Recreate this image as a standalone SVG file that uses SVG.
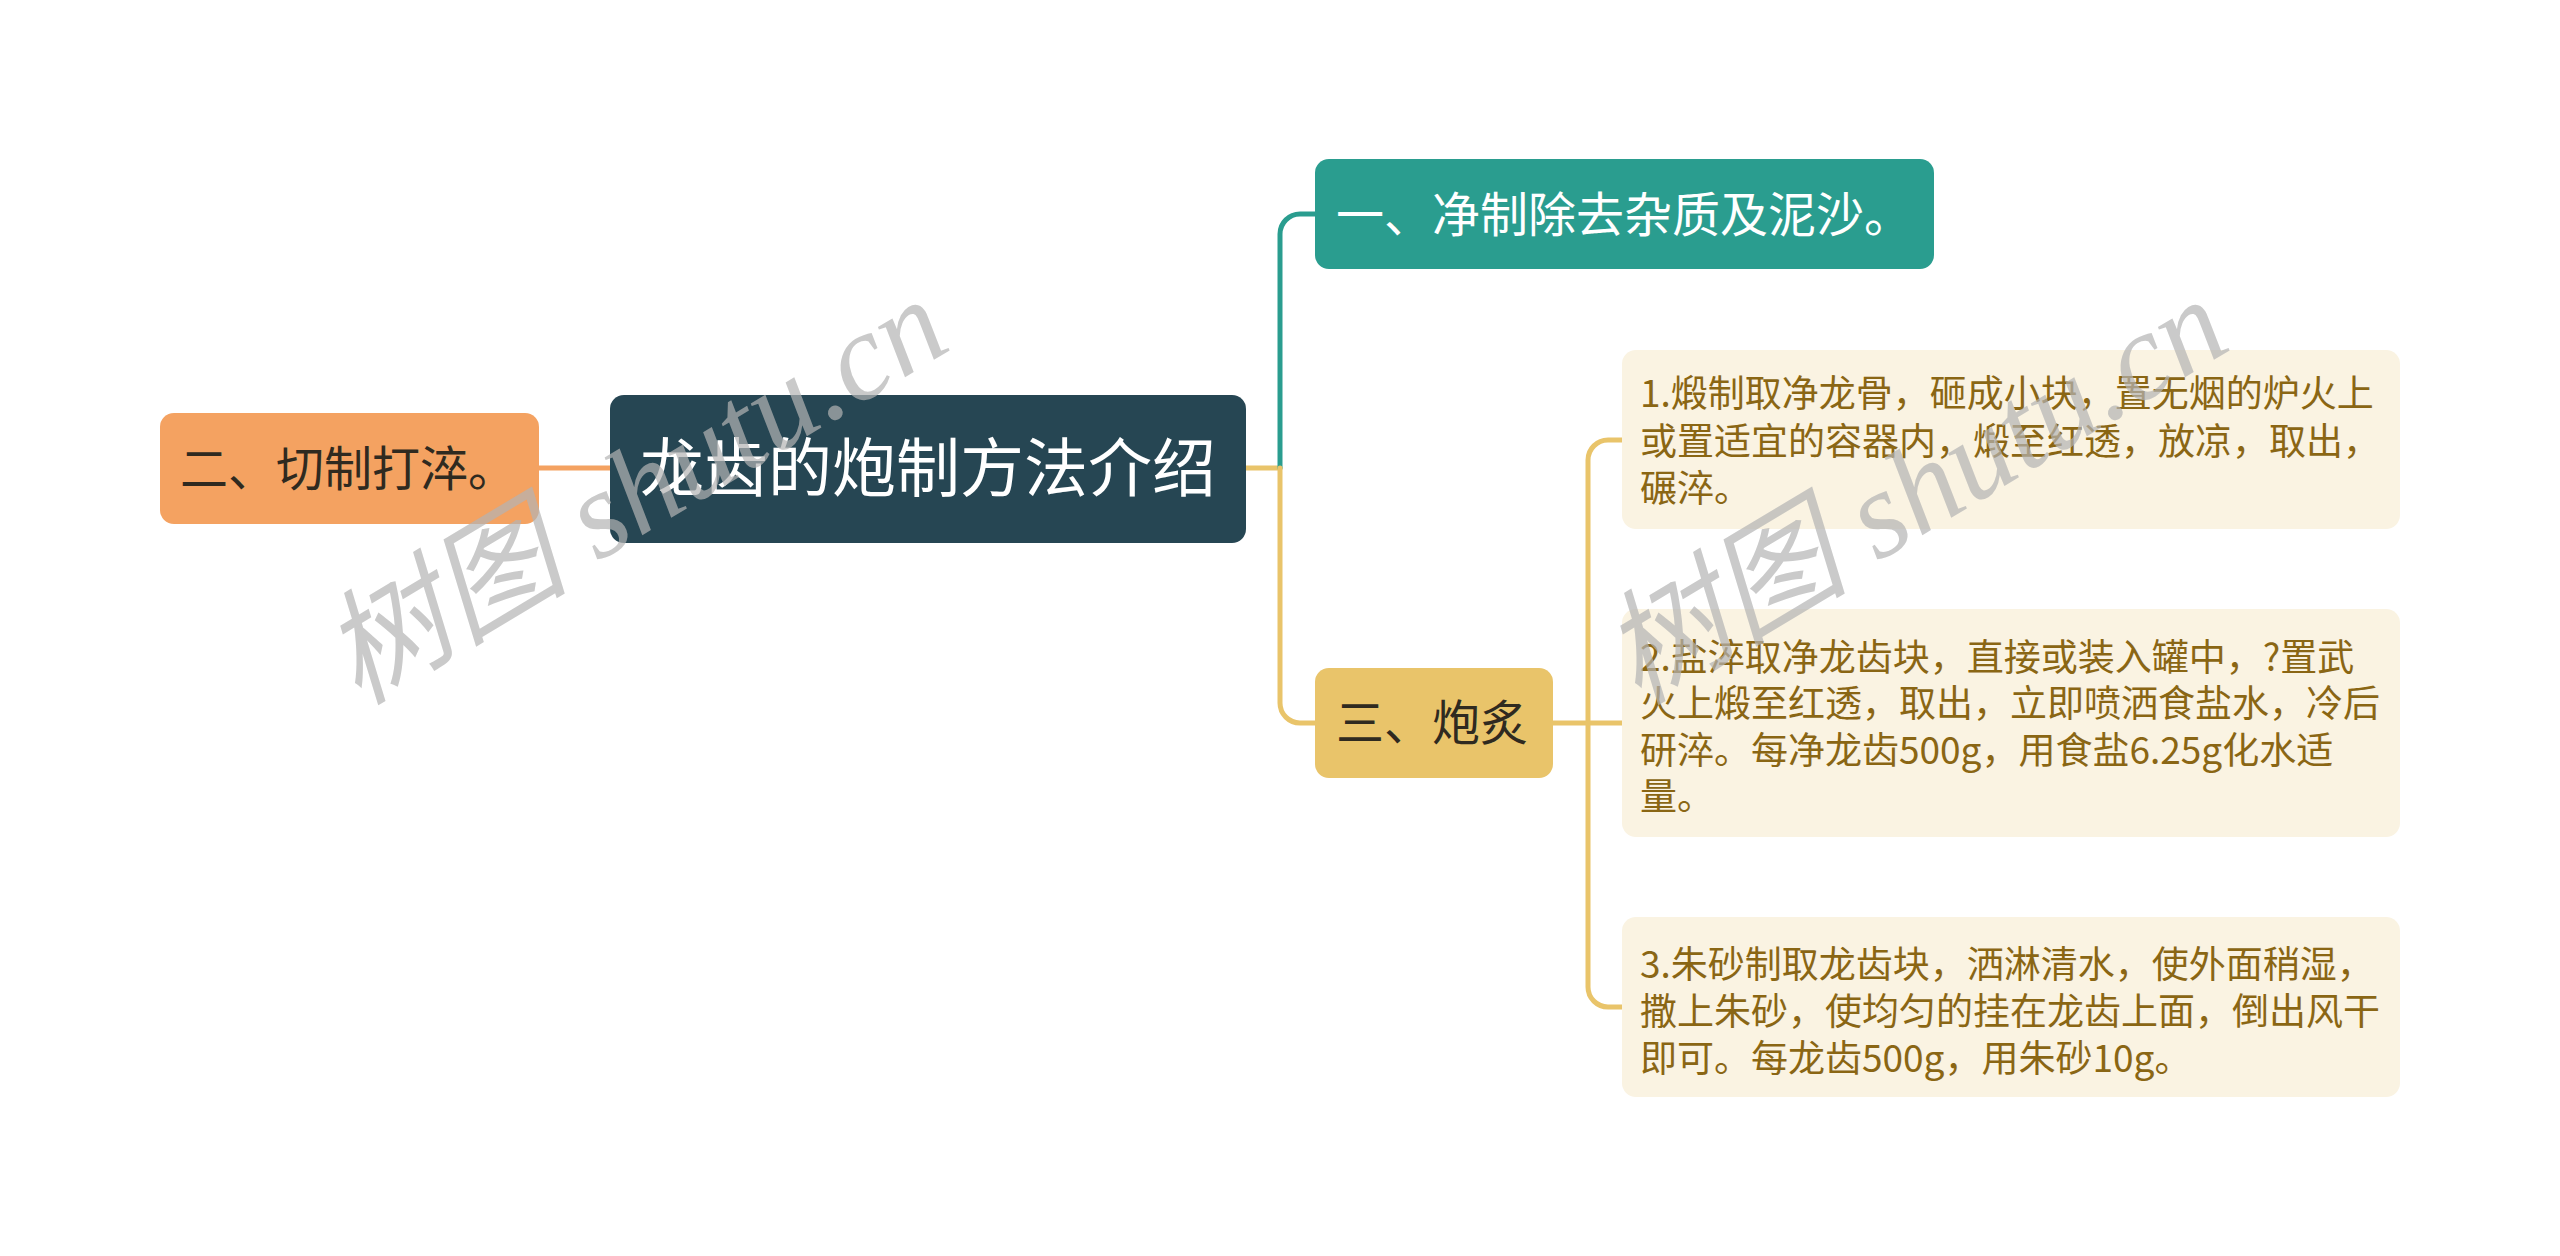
<svg xmlns="http://www.w3.org/2000/svg" width="2560" height="1256" viewBox="0 0 2560 1256">
<style>
.cjk{font-family:"Noto Sans CJK SC","Noto Sans",sans-serif}
.line{fill:none;stroke-width:5;stroke-linecap:round}
.leafbox{fill:#FAF3E2}
.leaftext{font-size:37px;fill:#8A6614}
.sub{font-size:48px;fill:#2F2A20}
.wm{font-family:"Liberation Serif","Noto Sans CJK SC",serif;font-style:italic;font-size:124px;fill:#B4B4B4;opacity:0.7}
</style>
<rect width="2560" height="1256" fill="#FFFFFF"/>
<g id="connectors">
<path class="line" stroke="#F4A261" d="M539,468 H610"/>
<path class="line" stroke="#E9C46A" d="M1246,468 H1280"/>
<path class="line" stroke="#2A9D8F" d="M1280,468 V234 A20,20 0 0 1 1300,214 H1315"/>
<path class="line" stroke="#E9C46A" d="M1280,468 V703 A20,20 0 0 0 1300,723 H1315"/>
<path class="line" stroke="#E9C46A" d="M1553,723 H1622"/>
<path class="line" stroke="#E9C46A" d="M1622,440 H1608 A20,20 0 0 0 1588,460 V987 A20,20 0 0 0 1608,1007 H1622"/>
</g>
<g id="root">
<rect x="610" y="395" width="636" height="148" rx="14" fill="#264653"/>
<text class="cjk" x="928" y="491" font-size="64" fill="#FFFFFF" text-anchor="middle">龙齿的炮制方法介绍</text>
</g>
<g id="node-qiezhi">
<rect x="160" y="413" width="379" height="111" rx="14" fill="#F4A261"/>
<text class="cjk sub" x="180" y="486">二、切制打淬。</text>
</g>
<g id="node-jingzhi">
<rect x="1315" y="159" width="619" height="110" rx="14" fill="#2A9D8F"/>
<text class="cjk" x="1336" y="232" font-size="48" fill="#FFFFFF">一、净制除去杂质及泥沙。</text>
</g>
<g id="node-paozhi">
<rect x="1315" y="668" width="238" height="110" rx="14" fill="#E9C46A"/>
<text class="cjk sub" x="1336" y="740">三、炮炙</text>
</g>
<g id="leaf-1">
<rect class="leafbox" x="1622" y="350" width="778" height="179" rx="14"/>
<text class="cjk leaftext"><tspan x="1640" y="407">1.煅制取净龙骨，砸成小块，置无烟的炉火上</tspan><tspan x="1640" y="455">或置适宜的容器内，煅至红透，放凉，取出，</tspan><tspan x="1640" y="502">碾淬。</tspan></text>
</g>
<g id="leaf-2">
<rect class="leafbox" x="1622" y="609" width="778" height="228" rx="14"/>
<text class="cjk leaftext"><tspan x="1640" y="671">2.盐淬取净龙齿块，直接或装入罐中，?置武</tspan><tspan x="1640" y="717">火上煅至红透，取出，立即喷洒食盐水，冷后</tspan><tspan x="1640" y="764">研淬。每净龙齿500g，用食盐6.25g化水适</tspan><tspan x="1640" y="810">量。</tspan></text>
</g>
<g id="leaf-3">
<rect class="leafbox" x="1622" y="917" width="778" height="180" rx="14"/>
<text class="cjk leaftext"><tspan x="1640" y="978">3.朱砂制取龙齿块，洒淋清水，使外面稍湿，</tspan><tspan x="1640" y="1025">撒上朱砂，使均匀的挂在龙齿上面，倒出风干</tspan><tspan x="1640" y="1072">即可。每龙齿500g，用朱砂10g。</tspan></text>
</g>
<g id="watermarks">
<text class="wm" transform="translate(358,706) rotate(-31)">树图 shutu.cn</text>
<text class="wm" transform="translate(1638,706) rotate(-31)">树图 shutu.cn</text>
</g>
</svg>
